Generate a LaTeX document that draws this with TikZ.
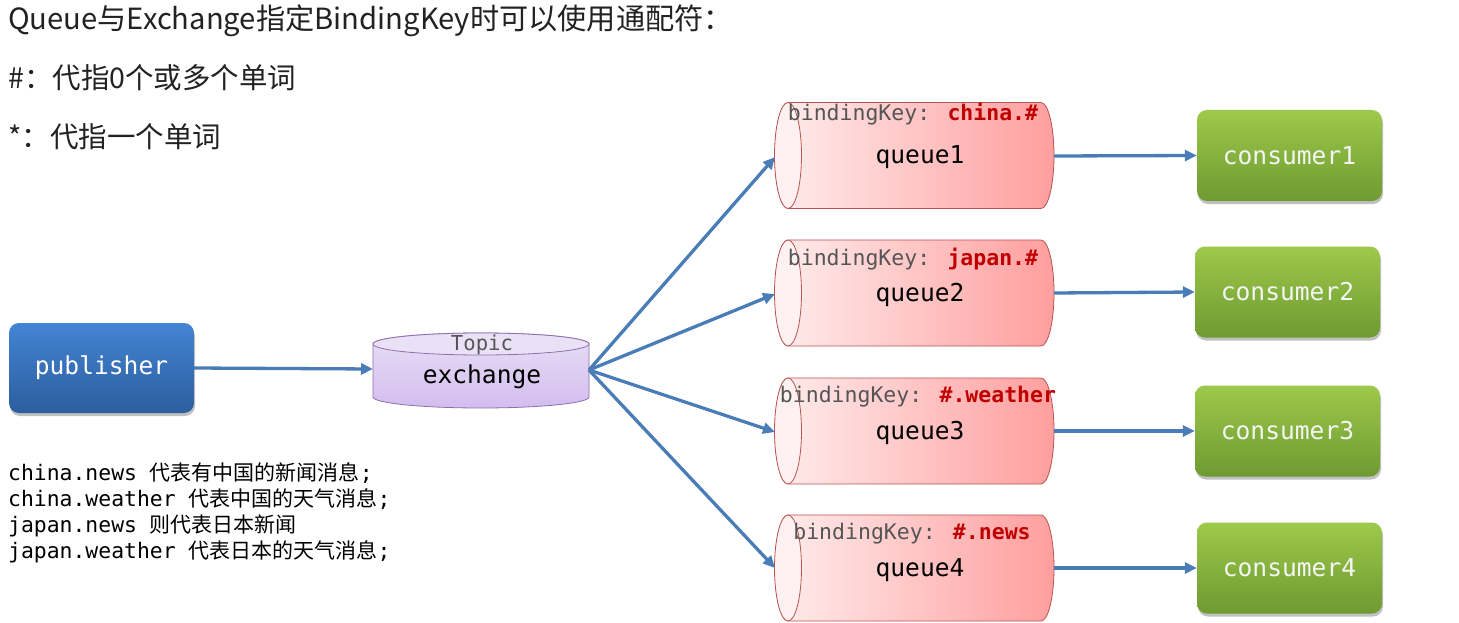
\documentclass[tikz,border=0pt]{standalone}
\usepackage{fontspec}
\newfontfamily\cjk{Noto Sans CJK SC}
\newfontfamily\mono{DejaVu Sans Mono}
\usetikzlibrary{arrows.meta,shadows}
\definecolor{arrowblue}{HTML}{4A7DB8}
\definecolor{pubtop}{HTML}{4384D3}
\definecolor{pubbot}{HTML}{2C5E9F}
\definecolor{contop}{HTML}{9DC94B}
\definecolor{conbot}{HTML}{6E9A31}
\definecolor{qleft}{HTML}{FFEDED}
\definecolor{qright}{HTML}{FF9E9E}
\definecolor{qface}{HTML}{FFF1F1}
\definecolor{qborder}{HTML}{B85450}
\definecolor{extop}{HTML}{EBE1F7}
\definecolor{exbodyt}{HTML}{E9DFF6}
\definecolor{exbodyb}{HTML}{D2BDEE}
\definecolor{exborder}{HTML}{8E6FAE}
\definecolor{lblgray}{HTML}{555555}
\definecolor{keyred}{HTML}{C00000}
\definecolor{txt}{HTML}{222222}
\tikzset{
  flow/.style={draw=arrowblue, line width=3.3pt, -{Triangle[length=12pt,width=11pt]}},
  boxshadow/.style={drop shadow={shadow xshift=1pt, shadow yshift=-3pt, opacity=0.35, fill=black!70}},
  pubbox/.style={rounded corners=10pt, top color=pubtop, bottom color=pubbot, minimum width=185pt, minimum height=90pt, inner sep=0pt, text=white, font=\mono\fontsize{24.6}{24.6}\selectfont, boxshadow},
  conbox/.style={rounded corners=10pt, top color=contop, bottom color=conbot, minimum width=185pt, minimum height=91pt, inner sep=0pt, text=white!96!black, font=\mono\fontsize{24.6}{24.6}\selectfont, boxshadow},
  queueshade/.style={left color=qleft, right color=qright, draw=qborder, line width=0.8pt},
  qtext/.style={anchor=base, inner sep=0pt, font=\mono\fontsize{24.6}{24.6}\selectfont, text=black},
  qlabel/.style={anchor=base, inner sep=0pt, font=\mono\fontsize{21.5}{21.5}\selectfont, text=lblgray},
  cjktext/.style={anchor=base west, inner sep=0pt, font=\cjk\fontsize{28.5}{28.5}\selectfont, text=txt},
  monoline/.style={anchor=base west, inner sep=0pt, font=\fontsize{21.4}{21.4}\selectfont, text=black}
}
\begin{document}
\begin{tikzpicture}[x=1pt,y=-1pt]
\fill[white] (0,0) rectangle (1459,623);
\useasboundingbox (0,0) rectangle (1459,623);

% heading texts
\node[cjktext, font=\cjk\fontsize{29.2}{29.2}\selectfont] (title) at (8,30) {Queue与Exchange指定BindingKey时可以使用通配符：};
\node[cjktext] (hash) at (8,89) {\#：代指0个或多个单词};
\node[cjktext] (star) at (8,147) {*：代指一个单词};

% explanation lines
\node[monoline] (m1) at (8,480) {{\mono china.news }{\cjk\fontsize{21}{21}\selectfont 代表有中国的新闻消息}{\mono ;}};
\node[monoline] (m2) at (8,506) {{\mono china.weather }{\cjk\fontsize{21}{21}\selectfont 代表中国的天气消息}{\mono ;}};
\node[monoline] (m3) at (8,532) {{\mono japan.news }{\cjk\fontsize{21}{21}\selectfont 则代表日本新闻}};
\node[monoline] (m4) at (8,558) {{\mono japan.weather }{\cjk\fontsize{21}{21}\selectfont 代表日本的天气消息}{\mono ;}};

% publisher
\node[pubbox] (pub) at (101.5,368) {publisher};

% exchange cylinder
\shadedraw[top color=exbodyt, bottom color=exbodyb, draw=exborder, line width=0.8pt]
  (373,344) -- (373,397) arc[start angle=180, end angle=360, x radius=108pt, y radius=11pt]
  -- (589,344) arc[start angle=0, end angle=180, x radius=108pt, y radius=11pt] -- cycle;
\filldraw[fill=extop, draw=exborder, line width=0.8pt] (481,344) ellipse[x radius=108pt, y radius=11pt];
\node[qlabel, font=\mono\fontsize{20.6}{20.6}\selectfont] (topic) at (482,350) {Topic};
\node[qtext] (ex) at (482,383) {exchange};
\coordinate (exw) at (373,369);
\coordinate (exe) at (589,370);

% queues
\foreach \c in {155.5,293,431,568}{
  \shadedraw[queueshade] (788,\c-53) -- (1041,\c-53)
    arc[start angle=90, end angle=-90, x radius=13pt, y radius=53pt]
    -- (788,\c+53) arc[start angle=270, end angle=90, x radius=13pt, y radius=53pt] -- cycle;
  \filldraw[fill=qface, draw=qborder, line width=0.8pt] (788,\c) ellipse[x radius=13.5pt, y radius=53pt];
}
\node[qlabel] (k1) at (913,121) {bindingKey: {\bfseries\color{keyred}china.\#}};
\node[qlabel] (k2) at (913,265) {bindingKey: {\bfseries\color{keyred}japan.\#}};
\node[qlabel] (k3) at (918,402) {bindingKey: {\bfseries\color{keyred}\#.weather}};
\node[qlabel] (k4) at (912,539) {bindingKey: {\bfseries\color{keyred}\#.news}};
\node[qtext] (q1) at (920,164) {queue1};
\node[qtext] (q2) at (920,301) {queue2};
\node[qtext] (q3) at (920,439) {queue3};
\node[qtext] (q4) at (920,576) {queue4};
\coordinate (q1w) at (775,157);
\coordinate (q2w) at (775,294);
\coordinate (q3w) at (775,432);
\coordinate (q4w) at (775,568);
\coordinate (q1e) at (1054,156);
\coordinate (q2e) at (1054,293);
\coordinate (q3e) at (1054,431);
\coordinate (q4e) at (1054,568);

% consumers
\node[conbox] (c1) at (1289.5,155.5) {consumer1};
\node[conbox] (c2) at (1287.5,292) {consumer2};
\node[conbox] (c3) at (1287.5,431) {consumer3};
\node[conbox] (c4) at (1289.5,568) {consumer4};

% connectors
\draw[flow] (pub.east) -- (exw);
\draw[flow] (exe) -- (q1w);
\draw[flow] (exe) -- (q2w);
\draw[flow] (exe) -- (q3w);
\draw[flow] (exe) -- (q4w);
\draw[flow] (q1e) -- (c1.west);
\draw[flow] (q2e) -- (c2.west);
\draw[flow] (q3e) -- (c3.west);
\draw[flow] (q4e) -- (c4.west);
\end{tikzpicture}
\end{document}
